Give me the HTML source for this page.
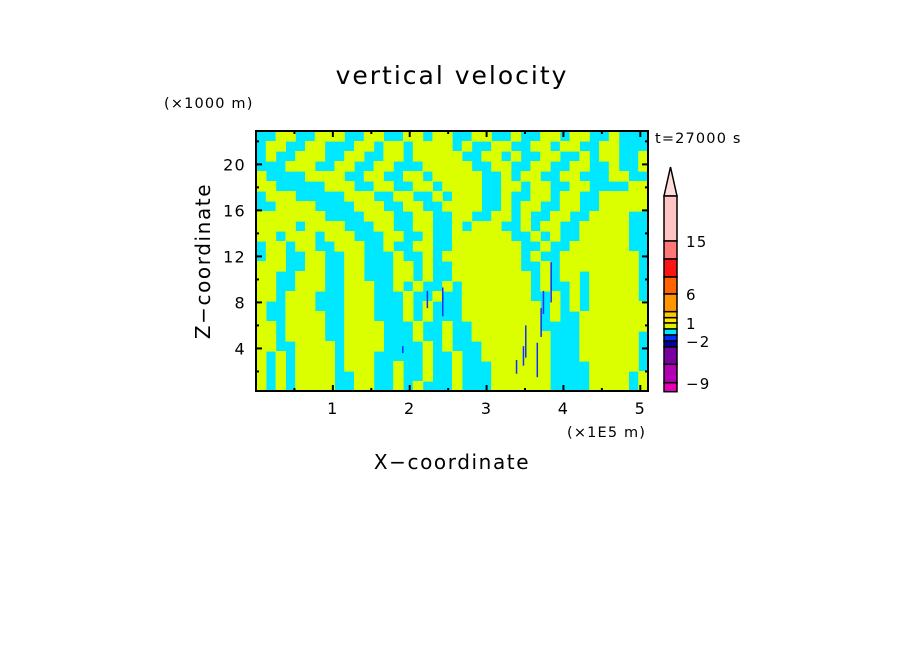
<!DOCTYPE html>
<html><head><meta charset="utf-8"><style>
body{margin:0;background:#fff;width:904px;height:654px;overflow:hidden}
svg{display:block}
text{font-family:"DejaVu Sans","Liberation Sans",sans-serif;fill:#000;letter-spacing:0.08em}
</style></head><body>
<svg id="chart" width="904" height="654" xmlns="http://www.w3.org/2000/svg">
<text x="452" y="84" font-size="25" text-anchor="middle">vertical velocity</text>
<text x="164" y="108" font-size="14.5">(×1000 m)</text>
<text x="0" y="0" font-size="20" text-anchor="middle" transform="translate(210,261) rotate(-90)">Z−coordinate</text>
<text x="452" y="469" font-size="20" text-anchor="middle">X−coordinate</text>
<text x="567" y="437" font-size="14.5">(×1E5 m)</text>
<text x="655" y="143" font-size="14.5">t=27000 s</text>
<g id="field"></g>
<g id="axes"></g>
<g id="cbar"></g>
</svg>
<script>
const xTicks=[1,2,3,4,5];
const yTicks=[4,8,12,16,20];
const xDomain=[0,5.1];
const yDomain=[0.3,22.9];
const fieldRows=[
"CCYYCCYYYCCYYCCYYCYYCCYYCCYCCYYCYYCCYCCC",
"CYYCCYYCCCYYCYYCYYYYCYCCYYCCYYCYYCCYYCCC",
"CYCCYYYCCYYCCYYCYYYYYCCYYCYCCYYCCYCYYCCY",
"CCCYYYCCYYCCYYCCCYYYYYCCYYCCYYCCYYCCYCCY",
"YCCCCYYYYCCYYCCYYCYYYYYCCYCYYCCYYCCCYYCC",
"YYCCCCCYYYCCYYCCYYCYYYYCCYYCYYCCYYCCCCYY",
"CYYYCCCCCYYYCCYYCCYCYYYCCYCCYYCYYCCYYYYY",
"CCYYYYCCCCYYYCCYYCCYYYYCCYCYYCCYYCCYYYYY",
"YYYYYYYCCCCYYYCCYYCCYYCCYYCYCCYYCCYYYYCC",
"YYYYCYYYYCCCYYCCYYCCYCYYYCCYCYYCCYYYYYCC",
"YYCYYYCYYYCCCYYCCYCCYYYYYYCCYCYCCYYYYYCC",
"CYYCYYCCYYYCCYCCYYCCYYYYYYYCCYCCYYYYYYCC",
"CYYCCYYCCYYCCCYCCYCYYYYYYYYCYCCYYYYYYYYC",
"YYYCCYYCCYYCCCYYCYCCYYYYYYYCCYCYYYYYYYYC",
"YYCCYYYCCYYCCCYYCYCCYYYYYYYYCYCYYCYYYYYC",
"YYCCYYYCCYYYCCYCYCCYCYYYYYYYCYCCYCYYYYYC",
"YYCYYYCCCYYYCCCYCCYCCYYYYYYYCCYCYCYYYYYC",
"YCCYYYCCCYYYCCCYCYCCCYYYYYYYYCYCYCYYYYYY",
"YCCYYYYCCYYYCCCYCYCCCYYYYYYYYCYCCYYYYYYY",
"YYCYYYYCCYYYYCCCYCCYCCYYYYYYYCCCCYYYYYYY",
"YYCYYYYCCYYYYCCCYCCYCCYYYYYYYYCCCYYYYYYC",
"YYCCYYYYCYYYYCCCCYCYCCCYYYYYYYCCCYYYYYYC",
"YCYCYYYYCYYYCCCCCYCCYCCYYYYYYYCCCYYYYYYC",
"YCYCYYYYCYYYCCYCCYCCYCCCYYYYYYCCCCYYYYYC",
"YCYCYYYYCCYYCCYCCYCCYCCCYYYYYYCCCCYYYYCY",
"YCYCYYYYCCYYCCYCYCCCYCCCYYYYYYCCCCYYYYCY"];
const streakX=[2.22,2.42,1.9,3.38,3.47,3.5,3.65,3.7,3.73,3.83];
const streakZ0=[7.5,6.8,3.6,1.8,2.5,3.2,1.5,5.0,7.0,8.0];
const streakZ1=[9.0,9.3,4.2,3.0,4.2,6.0,4.5,7.5,9.0,11.5];
const cbColors=["#ffc4c4","#ff7878","#ff1414","#ff6400","#ff9600","#ffc800","#ffe600","#e0f000","#00e8ff","#0030ff","#0000a0","#7800a0","#b400b4","#e600b4"];
const cbEdges=[196,241,259,277,294,311.7,317.7,323,329,335,341,347,364.3,382.7,391.7];
const cbLabels=["15","6","1","−2","−9"];
const cbLabelY=[247,300,329,347,389];

const L=256,R=648,T=131,B=391;
const NS="http://www.w3.org/2000/svg";
function sx(v){return L+(v-xDomain[0])/(xDomain[1]-xDomain[0])*(R-L);}
function sy(v){return B-(v-yDomain[0])/(yDomain[1]-yDomain[0])*(B-T);}
function mk(tag,attrs,parent){const e=document.createElementNS(NS,tag);for(const k in attrs)e.setAttribute(k,attrs[k]);parent.appendChild(e);return e;}
const field=document.getElementById('field');
mk('rect',{x:L,y:T,width:R-L,height:B-T,fill:'#00e8ff'},field);
const nr=fieldRows.length,nc=fieldRows[0].length,cw=(R-L)/nc,ch=(B-T)/nr;
fieldRows.forEach((row,r)=>{
  for(let c=0;c<nc;c++){
    if(row[c]==='Y'){
      const e=mk('rect',{x:L+c*cw,y:T+r*ch,width:cw+0.6,height:ch+0.6,fill:'#dcff00'},field);
      
      
    }
  }
});
streakX.forEach((x,i)=>{
  const e=mk('rect',{x:sx(x),y:sy(streakZ1[i]),width:1.5,height:sy(streakZ0[i])-sy(streakZ1[i]),fill:'#1030ff'},field);
  
  
});
const ax=document.getElementById('axes');
mk('rect',{x:L,y:T,width:R-L,height:B-T,fill:'none',stroke:'#000','stroke-width':2},ax);
for(let v=0.5;v<=5.01;v+=0.5){const X=sx(v);const len=Math.abs(v-Math.round(v))<0.01?6:3;
  mk('line',{x1:X,y1:B,x2:X,y2:B-len,stroke:'#000','stroke-width':2},ax);
  mk('line',{x1:X,y1:T,x2:X,y2:T+len,stroke:'#000','stroke-width':2},ax);}
for(let v=2;v<=22;v+=2){const Y=sy(v);const len=v%4===0?6:3;
  mk('line',{x1:L,y1:Y,x2:L+len,y2:Y,stroke:'#000','stroke-width':2},ax);
  mk('line',{x1:R,y1:Y,x2:R-len,y2:Y,stroke:'#000','stroke-width':2},ax);}
xTicks.forEach(v=>{const t=mk('text',{x:sx(v),y:414,'font-size':16,'text-anchor':'middle'},ax);t.textContent=v;
  
  });
yTicks.forEach(v=>{const t=mk('text',{x:246,y:sy(v)+6,'font-size':16,'text-anchor':'end'},ax);t.textContent=v;
  
  });
const cb=document.getElementById('cbar');
const cx0=664,cx1=677;
mk('polygon',{points:`${cx0},196 ${cx1},196 ${(cx0+cx1)/2},167`,fill:'#ffdcdc',stroke:'#000','stroke-width':1.5},cb);
cbColors.forEach((c,i)=>{const e=mk('rect',{x:cx0,y:cbEdges[i],width:cx1-cx0,height:cbEdges[i+1]-cbEdges[i],fill:c,stroke:'#000','stroke-width':1.5},cb);
  
  });
cbLabels.forEach((s,i)=>{const t=mk('text',{x:686,y:cbLabelY[i],'font-size':15},cb);t.textContent=s;
  
  });
</script>
</body></html>
